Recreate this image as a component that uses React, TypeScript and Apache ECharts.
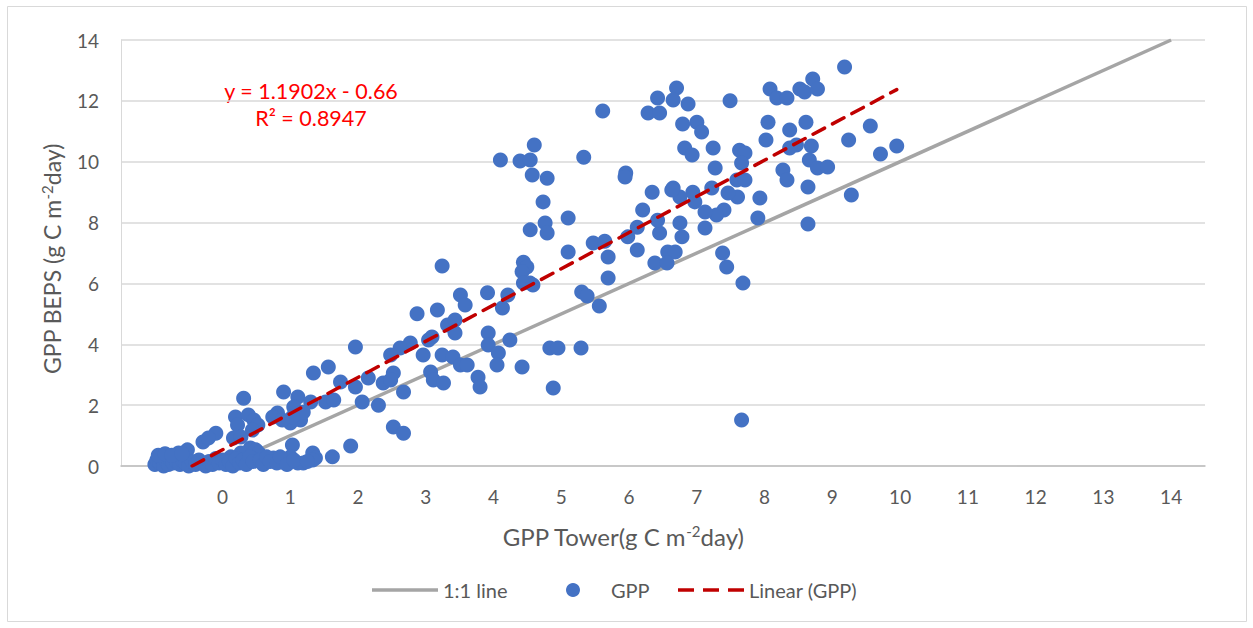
import React, { useEffect, useRef } from "react";
import * as echarts from "echarts";

// GPP Tower (x) vs GPP BEPS (y)
const gppPoints: [number, number][] = [
  [9.18, 13.11], [8.08, 12.39], [8.18, 12.09], [8.33, 12.09], [8.52, 12.39], [8.59, 12.29], [8.71, 12.72], [8.78, 12.39],
  [8.05, 11.3], [8.61, 11.3], [8.37, 11.04], [8.02, 10.71], [8.47, 10.55], [8.37, 10.45], [8.69, 10.52], [9.24, 10.71],
  [9.56, 11.17], [9.71, 10.25], [9.95, 10.52], [9.28, 8.91], [8.64, 7.95], [8.64, 9.17], [8.27, 9.73], [8.33, 9.4],
  [8.66, 10.06], [8.78, 9.79], [8.93, 9.83], [7.93, 8.81], [7.9, 8.15], [7.49, 12.0], [7.63, 10.38], [7.71, 10.29],
  [7.66, 9.96], [7.24, 10.45], [7.27, 9.79], [7.59, 9.4], [7.71, 9.4], [7.6, 8.84], [7.46, 8.97], [7.38, 7.0],
  [7.44, 6.54], [7.68, 6.01], [7.66, 1.51], [7.4, 8.41], [7.29, 8.25], [7.12, 8.35], [7.22, 9.14], [7.12, 7.82],
  [6.97, 8.68], [6.94, 9.0], [6.75, 8.84], [6.65, 9.14], [6.75, 7.99], [6.78, 7.53], [6.45, 7.66], [6.42, 8.08],
  [6.34, 9.0], [6.63, 9.07], [6.2, 8.41], [6.12, 7.85], [5.98, 7.53], [6.12, 7.1], [6.57, 7.03], [6.68, 7.03],
  [6.38, 6.67], [6.56, 6.67], [6.79, 11.24], [7.0, 11.3], [7.07, 10.98], [6.82, 10.45], [6.93, 10.22], [6.7, 12.42],
  [6.42, 12.09], [6.65, 12.03], [6.87, 11.9], [6.28, 11.6], [6.45, 11.6], [5.61, 11.67], [5.95, 9.63], [5.94, 9.5],
  [5.33, 10.15], [5.47, 7.33], [5.64, 7.39], [5.69, 6.87], [5.1, 7.03], [5.69, 6.18], [5.1, 8.15], [5.3, 5.72],
  [5.38, 5.59], [5.56, 5.26], [4.1, 10.06], [4.39, 10.02], [4.54, 10.06], [4.6, 10.55], [4.57, 9.56], [4.79, 9.46],
  [4.73, 8.68], [4.76, 7.99], [4.79, 7.66], [4.54, 7.76], [3.24, 6.57], [4.44, 6.7], [4.49, 6.54], [4.42, 6.38],
  [4.54, 6.01], [4.44, 6.01], [4.58, 5.95], [3.51, 5.62], [3.58, 5.29], [3.91, 5.69], [4.21, 5.62], [4.13, 5.19],
  [2.87, 5.0], [3.17, 5.13], [3.32, 4.63], [3.43, 4.8], [3.43, 4.37], [3.04, 4.14], [3.09, 4.24], [2.96, 3.65],
  [2.77, 4.04], [2.62, 3.88], [2.48, 3.65], [3.24, 3.65], [3.4, 3.58], [3.51, 3.32], [3.61, 3.32], [3.07, 3.09],
  [3.11, 2.83], [3.26, 2.73], [3.77, 2.92], [3.8, 2.6], [3.92, 4.37], [3.92, 3.98], [4.07, 3.71], [4.05, 3.32],
  [4.24, 4.14], [4.42, 3.25], [4.83, 3.88], [4.95, 3.88], [4.88, 2.56], [5.29, 3.88], [1.96, 3.91], [1.34, 3.06],
  [1.56, 3.25], [1.74, 2.76], [1.96, 2.6], [2.15, 2.89], [2.06, 2.1], [2.3, 2.0], [2.37, 2.73], [2.52, 3.06],
  [2.48, 2.83], [2.67, 2.43], [2.52, 1.28], [2.67, 1.08], [0.9, 2.43], [1.11, 2.27], [1.3, 2.1], [1.05, 1.94],
  [1.15, 1.51], [1.0, 1.41], [1.52, 2.1], [1.64, 2.17], [0.31, 2.23], [1.19, 1.77], [1.03, 1.61], [0.81, 1.74],
  [0.74, 1.61], [0.88, 1.51], [0.19, 1.61], [0.22, 1.35], [0.16, 0.92], [0.27, 0.95], [0.38, 1.68], [0.46, 1.51],
  [0.52, 1.35], [0.44, 1.18], [-0.1, 1.08], [-0.29, 0.79], [-0.21, 0.92], [-0.52, 0.53], [-0.65, 0.43], [-0.72, 0.3],
  [1.03, 0.69], [1.33, 0.43], [1.37, 0.26], [1.62, 0.3], [1.89, 0.66], [0.41, 0.59], [0.49, 0.53], [0.53, 0.43],
  [0.27, 0.43], [0.12, 0.3], [1.0, 0.3], [0.75, 0.26], [0.88, 0.13], [1.11, 0.1], [1.19, 0.1], [1.33, 0.2],
  [-1.0, 0.05], [-0.97, 0.2], [-0.93, 0.1], [-0.9, 0.25], [-0.87, 0.0], [-0.83, 0.15], [-0.8, 0.05], [-0.77, 0.2],
  [-0.73, 0.1], [-0.68, 0.15], [-0.63, 0.05], [-0.6, 0.2], [-0.55, 0.1], [-0.5, 0.0], [-0.45, 0.15], [-0.4, 0.05],
  [-0.35, 0.2], [-0.3, 0.1], [-0.25, 0.0], [-0.2, 0.15], [-0.15, 0.05], [-0.1, 0.25], [-0.05, 0.1], [0.0, 0.2],
  [0.05, 0.05], [0.1, 0.15], [0.15, 0.0], [0.2, 0.25], [0.25, 0.1], [0.3, 0.2], [0.35, 0.05], [0.4, 0.3],
  [0.45, 0.15], [0.55, 0.2], [0.6, 0.05], [0.65, 0.3], [0.7, 0.15], [0.8, 0.1], [0.85, 0.3], [0.95, 0.05],
  [1.05, 0.2], [1.25, 0.15],
  [-0.95, 0.35], [-0.85, 0.4], [-0.75, 0.35], [-0.6, 0.4],
];

const oneToOneLine: [number, number][] = [[0, 0], [14, 14]];
const linearFit: [number, number][] = [[-0.45, 0.0], [9.95, 12.37]];

const xTickLabels = [0, 1, 2, 3, 4, 5, 6, 7, 8, 9, 10, 11, 12, 13, 14];
const yTicks = { min: 0, max: 14, step: 2 };
const xRange = { min: -1.5, max: 14.5, step: 0.5 };

const seriesNames = ["1:1 line", "GPP", "Linear (GPP)"];
const equationText = "y = 1.1902x - 0.66";
const r2Text = "R² = 0.8947";

const FONT = "Lato";
const TEXT = "#595959";

const solidIcon = "path://M0 0 H66 V3.5 H0 Z";
const dashedIcon = "path://M0 0 H16 V3.5 H0 Z M25 0 H41 V3.5 H25 Z M50 0 H66 V3.5 H50 Z";

const legendBase = {
  top: 580,
  padding: 0,
  itemHeight: 14,
  symbolKeepAspect: true,
  textStyle: { color: TEXT, fontSize: 20, fontFamily: FONT },
};

export default function App() {
  const ref = useRef<HTMLDivElement>(null);
  useEffect(() => {
    if (!ref.current) return;
    const chart = echarts.init(ref.current, null, { renderer: "svg" });
    const supStyle = { color: TEXT, fontSize: 15, fontFamily: FONT, padding: [0, 0, 11, 0] };
    chart.setOption({
      animation: false,
      backgroundColor: "#ffffff",
      textStyle: { fontFamily: FONT },
      grid: { left: 121, right: 48, top: 40, bottom: 162, containLabel: false },
      xAxis: {
        type: "value",
        min: xRange.min,
        max: xRange.max,
        interval: xRange.step,
        axisLine: { show: true, onZero: false, lineStyle: { color: "#BFBFBF", width: 1.5 } },
        axisTick: { show: false },
        splitLine: { show: false },
        axisLabel: {
          color: TEXT,
          fontSize: 19,
          fontFamily: FONT,
          margin: 21,
          formatter: (v: number) =>
            Number.isInteger(v) && xTickLabels.indexOf(v) >= 0 ? String(v) : "",
        },
        name: "GPP Tower(g C m{sup|-2}day)",
        nameLocation: "middle",
        nameGap: 57,
        nameTextStyle: {
          color: TEXT,
          fontSize: 24,
          fontFamily: FONT,
          padding: [0, 80, 0, 0],
          rich: { sup: supStyle },
        },
      },
      yAxis: {
        type: "value",
        min: yTicks.min,
        max: yTicks.max,
        interval: yTicks.step,
        axisLine: { show: true, onZero: false, lineStyle: { color: "#D9D9D9", width: 1 } },
        axisTick: { show: false },
        splitLine: { show: true, lineStyle: { color: "#D9D9D9", width: 1.5 } },
        axisLabel: { color: TEXT, fontSize: 19, fontFamily: FONT, margin: 22 },
        name: "GPP BEPS (g C m{sup|-2}day)",
        nameLocation: "middle",
        nameRotate: 90,
        nameGap: 56,
        nameTextStyle: {
          color: TEXT,
          fontSize: 23,
          fontFamily: FONT,
          padding: [0, 12, 0, 0],
          rich: { sup: supStyle },
        },
      },
      legend: [
        {
          ...legendBase,
          left: 372,
          itemWidth: 66,
          data: [{ name: seriesNames[0], icon: solidIcon }],
        },
        {
          ...legendBase,
          left: 566,
          itemWidth: 14,
          textStyle: { ...legendBase.textStyle, padding: [0, 0, 0, 26] },
          data: [{ name: seriesNames[1], icon: "circle" }],
        },
        {
          ...legendBase,
          left: 678,
          itemWidth: 66,
          data: [{ name: seriesNames[2], icon: dashedIcon }],
        },
      ],
      series: [
        {
          name: seriesNames[0],
          type: "line",
          data: oneToOneLine,
          symbol: "none",
          z: 1,
          lineStyle: { color: "#A5A5A5", width: 3.5 },
          itemStyle: { color: "#A5A5A5" },
        },
        {
          name: seriesNames[1],
          type: "scatter",
          data: gppPoints,
          symbol: "circle",
          symbolSize: 15,
          z: 2,
          itemStyle: { color: "#4472C4", opacity: 1 },
        },
        {
          name: seriesNames[2],
          type: "line",
          data: linearFit,
          symbol: "none",
          z: 3,
          lineStyle: { color: "#C00000", width: 3.5, type: [13, 9], cap: "round" },
          itemStyle: { color: "#C00000" },
        },
      ],
      graphic: [
        {
          type: "rect",
          shape: { x: 7.5, y: 6.5, width: 1239, height: 615 },
          style: { fill: "none", stroke: "#D9D9D9", lineWidth: 1 },
          silent: true,
          z: -10,
        },
        {
          type: "text",
          x: 311,
          y: 91,
          style: {
            text: equationText,
            fill: "#FF0000",
            fontSize: 21.5,
            fontFamily: FONT,
            align: "center",
            verticalAlign: "middle",
          },
        },
        {
          type: "text",
          x: 311,
          y: 118,
          style: {
            text: r2Text,
            fill: "#FF0000",
            fontSize: 21.5,
            fontFamily: FONT,
            align: "center",
            verticalAlign: "middle",
          },
        },
      ],
    });
    return () => chart.dispose();
  }, []);
  return (
    <div
      ref={ref}
      style={{ position: "fixed", left: 0, top: 0, width: 1253, height: 628, background: "#fff" }}
    />
  );
}
